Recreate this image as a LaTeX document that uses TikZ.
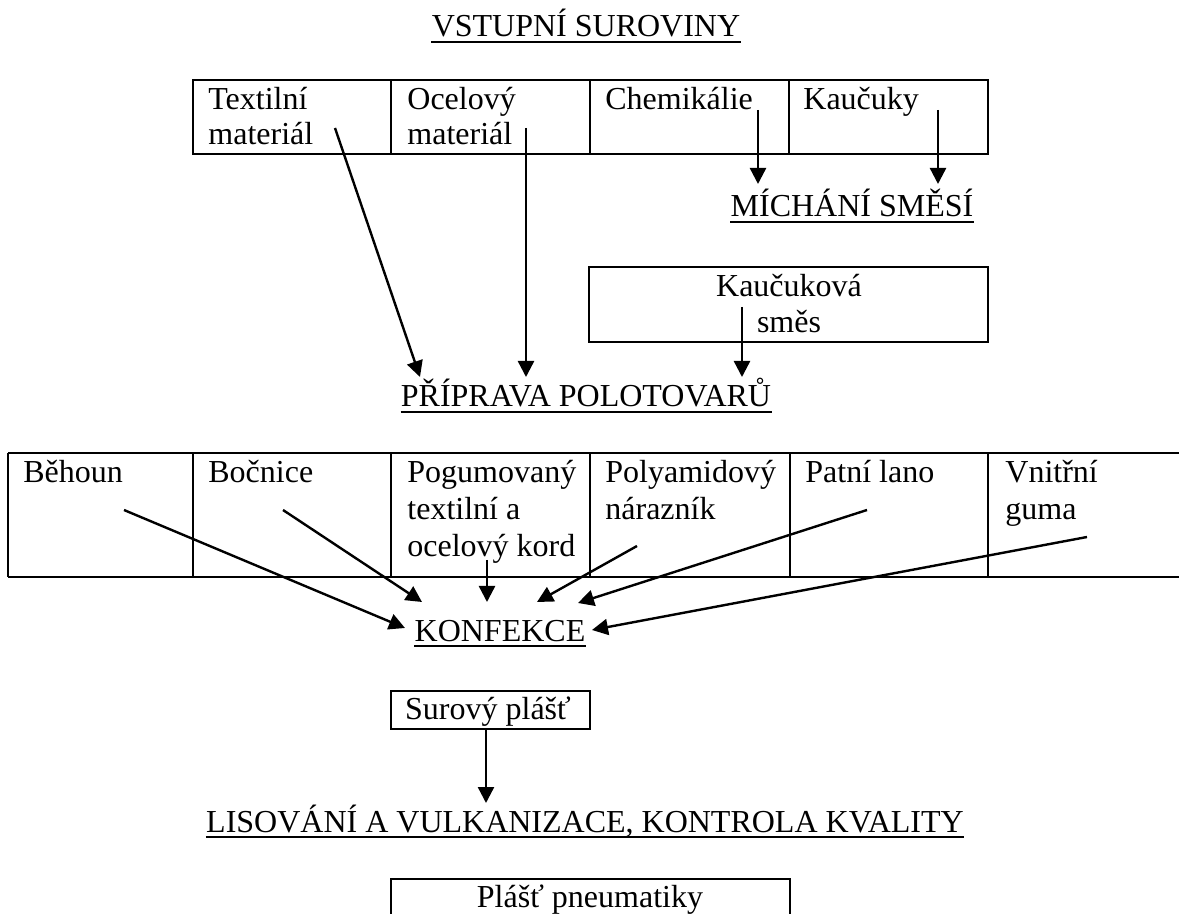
\documentclass[tikz,border=0pt]{standalone}
\usepackage{fontspec}
\setmainfont{Liberation Serif}
\usetikzlibrary{arrows.meta}
\begin{document}
\begin{tikzpicture}[x=0.5pt,y=-0.5pt,
  txt/.style={inner sep=0pt, anchor=base west, font=\fontsize{16pt}{18pt}\selectfont},
  ctxt/.style={inner sep=0pt, anchor=base, font=\fontsize{16pt}{18pt}\selectfont},
  frame/.style={line width=1.2pt},
  arr/.style={line width=1.2pt, -{Triangle[length=8pt,width=8pt]}},
  ul/.style={line width=1.1pt}]
\useasboundingbox (0,0) rectangle (1179,914);

% ---------- headings ----------
\node[ctxt] (vstup) at (586,37) {VSTUPNÍ SUROVINY};
\node[ctxt] (mich) at (852,217) {MÍCHÁNÍ SMĚSÍ};
\node[ctxt] (prip) at (586,407) {PŘÍPRAVA POLOTOVARŮ};
\node[ctxt] (konf) at (500,641) {KONFEKCE};
\node[ctxt] (lis) at (585,832) {LISOVÁNÍ A VULKANIZACE, KONTROLA KVALITY};
\foreach \h in {vstup,mich,prip,konf,lis}
  \draw[ul] ([yshift=-2.6pt]\h.base west) -- ([yshift=-2.6pt]\h.base east);

% ---------- top table ----------
\draw[frame] (193,80) rectangle (988,154);
\foreach \x in {391,590,789} \draw[frame] (\x,80) -- (\x,154);
\node[txt] (tex1) at (208,110) {Textilní};
\node[txt] (tex2) at (208,145) {materiál};
\node[txt] (oce1) at (407,110) {Ocelový};
\node[txt] (oce2) at (407,145) {materiál};
\node[txt] (chem) at (605,110) {Chemikálie};
\node[txt] (kauc) at (803,110) {Kaučuky};

% ---------- Kaucukova smes box ----------
\draw[frame] (589,267) rectangle (988,342);
\node[ctxt] (ks1) at (789,297) {Kaučuková};
\node[ctxt] (ks2) at (789,333) {směs};

% ---------- lower table ----------
\draw[frame] (8,453) -- (1179,453);
\draw[frame] (8,577) -- (1179,577);
\foreach \x in {8,193,391,590,790,988} \draw[frame] (\x,453) -- (\x,577);
\node[txt] (beh) at (23,483) {Běhoun};
\node[txt] (boc) at (208,483) {Bočnice};
\node[txt] (pog1) at (407,483) {Pogumovaný};
\node[txt] (pog2) at (407,520) {textilní a};
\node[txt] (pog3) at (407,557) {ocelový kord};
\node[txt] (pol1) at (605,483) {Polyamidový};
\node[txt] (pol2) at (605,520) {nárazník};
\node[txt] (pat) at (805,483) {Patní lano};
\node[txt] (vni1) at (1005,483) {Vnitřní};
\node[txt] (vni2) at (1005,520) {guma};

% ---------- Surovy plast ----------
\draw[frame] (391,691) rectangle (590,729);
\node[ctxt] (sur) at (488,719) {Surový plášť};

% ---------- Plast pneumatiky ----------
\draw[frame] (391,914) -- (391,879) -- (790,879) -- (790,914);
\node[ctxt] (plast) at (590,907) {Plášť pneumatiky};

% ---------- connector points ----------
\coordinate (aTexS) at (335,128);  \coordinate (aTexE) at (420,377);
\coordinate (aOceS) at (526,128);  \coordinate (aOceE) at (526,377);
\coordinate (aCheS) at (758,110);  \coordinate (aCheE) at (758,184);
\coordinate (aKauS) at (938,110);  \coordinate (aKauE) at (938,184);
\coordinate (aKsS)  at (742,307);  \coordinate (aKsE)  at (742,377);
\coordinate (aBehS) at (124,510);  \coordinate (aBehE) at (405,628);
\coordinate (aBocS) at (283,510);  \coordinate (aBocE) at (422,602);
\coordinate (aPogS) at (487,560);  \coordinate (aPogE) at (487,602);
\coordinate (aPolS) at (637,546);  \coordinate (aPolE) at (537,602);
\coordinate (aPatS) at (867,510);  \coordinate (aPatE) at (578,603);
\coordinate (aVniS) at (1087,537); \coordinate (aVniE) at (592,630);
\coordinate (aSurS) at (486,729);  \coordinate (aSurE) at (486,803);

\foreach \a in {Tex,Oce,Che,Kau,Ks,Beh,Boc,Pog,Pol,Pat,Vni,Sur}
  \draw[arr] (a\a S) -- (a\a E);
\end{tikzpicture}
\end{document}
